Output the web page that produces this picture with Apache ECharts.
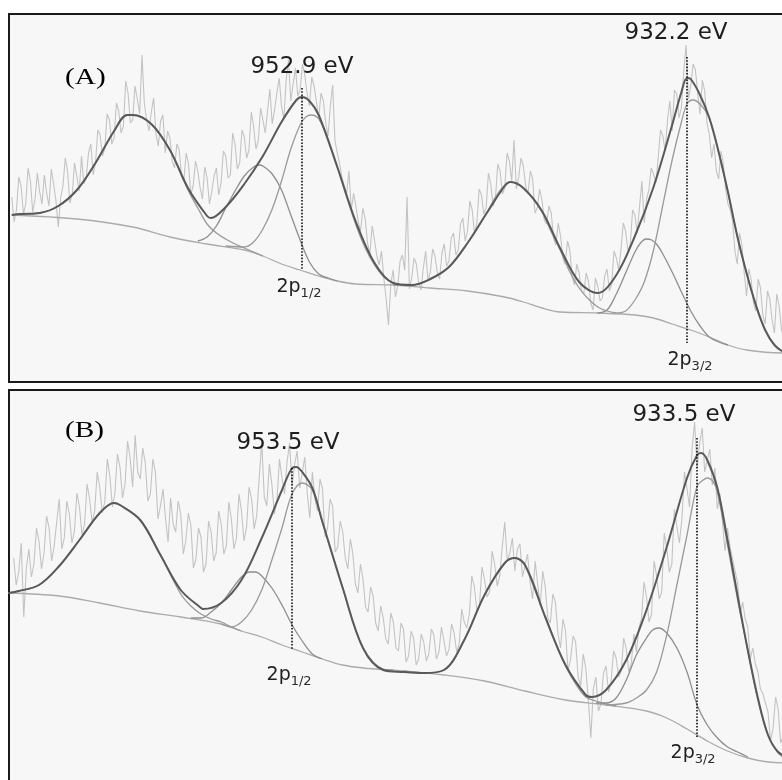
<!DOCTYPE html>
<html>
<head>
<meta charset="utf-8">
<title>Cu 2p XPS</title>
<script type="text/javascript" src="https://cdn.jsdelivr.net/npm/echarts/dist/echarts.min.js"></script>
<style type="text/css">
html, body { margin: 0; padding: 0; background: #ffffff; }
#main { width: 782px; height: 780px; }
</style>
</head>
<body>
<div id="main"></div>
<script type="text/javascript">

// binding energy grid of the raw scans (eV), values are intensity (a.u.)
var rawStep = 0.125;
var rawStartA = 968.5;
var rawStartB = 967.25;

var rawA = [185,160,172,205,196,168,178,214,201,170,183,209,190,178,207,189,176,213,198,181,
155,184,196,224,211,179,188,219,205,191,226,198,204,229,238,207,219,252,247,226,
233,268,262,238,244,279,271,249,256,301,289,259,262,296,283,268,327,279,262,251,
270,284,248,236,261,267,229,251,244,221,214,238,232,206,201,229,218,188,196,221,
211,194,183,215,204,178,190,206,214,187,199,231,226,204,207,249,238,213,219,252,
245,224,232,270,256,233,241,274,262,249,271,293,258,272,289,304,276,263,302,322,
281,298,314,286,292,318,307,289,276,305,296,281,264,289,281,259,246,276,297,241,
229,218,204,196,188,211,172,189,176,160,151,174,163,139,128,156,142,126,117,131,
104,83,57,98,112,85,96,121,127,112,185,93,104,124,118,99,92,114,131,101,
110,133,126,109,103,129,138,116,121,144,149,127,132,158,164,141,151,181,172,149,
158,193,187,168,174,209,198,176,183,218,211,188,194,229,221,201,242,193,205,224,
216,196,188,211,203,169,174,193,182,162,158,176,169,144,137,159,146,124,118,141,
132,105,97,118,109,91,88,109,101,79,72,104,96,81,84,106,113,91,98,131,
124,112,133,159,151,131,138,172,167,149,176,201,159,183,192,214,208,199,224,252,
246,231,262,281,251,292,288,264,275,311,337,283,296,318,312,289,268,302,291,259,
247,224,238,211,203,231,219,193,178,172,161,131,118,149,137,109,86,113,102,79,
71,103,94,67,58,91,83,62,49,88,76,53,44];

var rawB = [232,205,218,247,173,222,241,213,226,262,249,221,237,274,262,229,244,268,291,241,
252,289,276,247,259,297,283,255,266,306,291,268,279,318,303,277,288,331,314,283,
297,336,323,292,306,349,332,303,355,318,311,342,327,289,296,331,318,271,284,301,
271,248,292,266,258,289,276,236,249,277,265,222,231,262,253,218,226,269,258,229,
237,279,266,236,244,288,271,241,252,296,279,249,263,303,291,261,274,312,348,293,
284,326,306,276,289,331,312,296,328,347,304,326,339,302,317,333,296,272,318,291,
279,311,301,253,262,291,284,238,243,269,258,232,221,251,236,206,197,226,211,183,
178,203,194,167,159,184,172,151,146,177,168,142,139,167,161,128,134,159,152,125,
131,156,148,129,136,161,155,131,138,163,149,134,141,166,157,138,146,181,168,162,
176,214,203,179,184,223,211,193,198,239,226,204,214,243,268,229,237,252,219,241,
246,213,224,236,208,191,229,206,184,219,203,172,167,196,188,157,142,171,159,119,
131,154,148,113,104,136,122,91,52,101,113,79,86,117,124,98,108,139,132,113,
119,152,141,118,127,156,138,162,171,208,193,168,176,229,214,191,198,257,242,218,
226,281,263,247,272,318,301,283,341,368,322,347,362,318,330,341,305,322,281,296,
268,239,262,243,231,219,207,176,188,171,163,131,142,126,118,101,96,87,78,49,
62,93,81,47,54,76,67];

// panel A fitted curves [eV, intensity]
var envA = [[968.5,167],[968,168],[967,169],[966,176],[965,192],[964,219],[963,251],[962.3,267],[962,267],[961,258],[960,232],[959,193],[958,166],[957.8,164],[957,175],[956,198],[955,226],[954,260],[953.2,282],[952.9,285],[952.5,281],[952,267],[951,215],[950,160],[949,119],[948,99],[947,97],[946,103],[945,115],[944,139],[943,168],[942,196],[941.7,200],[941,194],[940,171],[939,133],[938,100],[937,89],[936,107],[935,146],[934,195],[933,257],[932.5,290],[932.2,304],[932,303],[931.5,287],[931,264],[930.5,230],[930,190],[929.5,146],[929,109],[928.5,77],[928,52],[927.5,37],[927,30],[926.5,28]];
var bgA = [[968.5,167],[965,163],[962,155],[960,145],[958,138],[956,132],[955,126],[954,118],[953,112],[952,106],[951,101],[950,98],[948,97],[946,94],[944,91],[942,85],[941,80],[940,74],[939,70],[937,69],[935,67],[934,64],[933,58],[932,52],[931,45],[930,37],[929,32],[927,29],[926.5,29]];
var satA1 = [[968.5,167],[968,168],[967,169],[966,176],[965,192],[964,219],[963,251],[962.3,267],[962,267],[961,258],[960,232],[959,191],[958.5,174],[958,158],[957.5,149],[957,143],[956.5,138],[956,134],[955.5,130],[955,126]];
var satA2 = [[958.5,141],[958,145],[957.5,156],[957,174],[956.5,191],[956,206],[955.5,215],[955.2,217],[955,216],[954.5,208],[954,192],[953.5,167],[953,142],[952.5,120],[952,108],[951.5,104],[951,101]];
var p12A = [[957,136],[956,135],[955.5,140],[955,153],[954.5,173],[954,201],[953.5,233],[953,257],[952.7,265],[952.4,267],[952,263],[951.5,242],[951,215],[950.5,185],[950,157],[949.5,134],[949,117],[948.5,105],[948,99],[947.5,97]];
var satA3 = [[948,97],[947,97],[946,103],[945,115],[944,139],[943,168],[942.5,185],[942,197],[941.7,200],[941.3,198],[941,194],[940.5,184],[940,170],[939.5,150],[939,131],[938.5,110],[938,94],[937.5,83],[937,75],[936.5,71],[936,69]];
var satA4 = [[937,69],[936.5,72],[936,88],[935.5,109],[935,130],[934.7,139],[934.4,143],[934.1,142],[933.8,137],[933.5,128],[933,110],[932.5,90],[932,71],[931.5,56],[931,45],[930.5,40],[930,37]];
var p32A = [[936,69],[935.5,71],[935,82],[934.5,100],[934,132],[933.5,177],[933,222],[932.5,260],[932.2,278],[931.9,282],[931.5,278],[931,264],[930.5,230],[930,190],[929.5,146],[929,109],[928.5,77],[928,52],[927.5,37],[927,30]];

// panel B fitted curves [eV, intensity]
var envB = [[967.5,197],[967,199],[966,205],[965,224],[964,250],[963,277],[962.3,287],[962,285],[961,270],[960,235],[959,200],[958,182],[957.9,181],[957,187],[956,210],[955,252],[954,300],[953.5,322],[953.3,323],[953,318],[952.5,302],[952,268],[951,202],[950,142],[949,120],[948,118],[947,117],[946,120],[945,150],[944,195],[943,227],[942.5,232],[942,225],[941,173],[940,125],[939,95],[938.7,93],[938,100],[937,130],[936,180],[935,243],[934,312],[933.5,335],[933.3,337],[933,330],[932.5,302],[932,250],[931.5,194],[931,140],[930.5,92],[930,55],[929.5,38],[929,33],[928.5,30]];
var bgB = [[967.5,197],[965,194],[963,187],[961,179],[959,173],[957,166],[956,159],[955,153],[954,145],[953,138],[952,131],[951,125],[950,122],[948,119],[946,115],[944,109],[942,99],[940,90],[938,85],[936,79],[935,72],[934,61],[933,49],[932,39],[931,32],[930,28],[929,27],[928.5,27]];
var satB1 = [[967.5,197],[967,199],[966,205],[965,224],[964,250],[963,277],[962.3,287],[962,285],[961,270],[960,235],[959,196],[958.5,184],[958,176],[957.5,171],[957,168],[956.5,163],[956,159]];
var satB2 = [[958.5,172],[958,172],[957.5,178],[957,187],[956.5,200],[956,213],[955.6,218],[955.3,218],[955,214],[954.5,202],[954,185],[953.5,165],[953,149],[952.5,136],[952,131]];
var p12B = [[957,166],[956.5,163],[956,168],[955.5,180],[955,200],[954.5,230],[954,262],[953.5,296],[953,307],[952.5,300],[952,267],[951.5,235],[951,202],[950.5,168],[950,142],[949.5,128],[949,121],[948.5,120]];
var satB3 = [[948,119],[947,117],[946,120],[945,150],[944,195],[943,227],[942.5,232],[942,225],[941.5,203],[941,173],[940.5,148],[940,124],[939.5,106],[939,93],[938.5,89],[938,86],[937.5,84]];
var satB4 = [[938.5,87],[938,87],[937.5,92],[937,110],[936.5,135],[936,152],[935.7,160],[935.4,162],[935,157],[934.5,142],[934,118],[933.5,85],[933,65],[932.5,52],[932,43],[931.5,38],[931,33]];
var p32B = [[938,85],[937,87],[936.5,92],[936,100],[935.5,118],[935,155],[934.5,205],[934,255],[933.5,304],[933.2,310],[933,312],[932.7,308],[932.5,298],[932,245],[931.5,190],[931,140],[930.5,90],[930,55],[929.5,37],[929,30]];

// peak positions and dotted marker ranges [eV, from, to]
var peaksA = [[952.9, 294, 112], [932.2, 325, 39]];
var peaksB = [[953.5, 322, 140], [933.5, 352, 53]];
var peakLabelsA = ['952.9 eV', '932.2 eV'];
var peakLabelsB = ['953.5 eV', '933.5 eV'];
var orbitalLabels = ['1/2', '3/2'];

function toSeriesData(values, start)
{
	var out = [];
	for (var i = 0; i < values.length; i++)
	{
		out.push([+(start - i * rawStep).toFixed(3), values[i]]);
	}
	return out;
}

function curve(idx, data, color, width, z)
{
	return {
		type: 'line',
		xAxisIndex: idx,
		yAxisIndex: idx,
		data: data,
		smooth: 0.35,
		symbol: 'none',
		silent: true,
		z: z,
		lineStyle: { color: color, width: width }
	};
}

function markers(idx, peaks, eVLabels, labelPos)
{
	var lines = [];
	var points = [];
	for (var i = 0; i < peaks.length; i++)
	{
		var p = peaks[i];
		lines.push([{ coord: [p[0], p[1]] }, { coord: [p[0], p[2]] }]);
		points.push({ coord: labelPos[i][0], value: eVLabels[i],
			label: { formatter: eVLabels[i], fontSize: 23, fontFamily: 'DejaVu Sans', color: '#1e1e1e' } });
		points.push({ coord: labelPos[i][1], value: orbitalLabels[i],
			label: { formatter: '{a|2p}{b|' + orbitalLabels[i] + '}' } });
	}
	return {
		type: 'line',
		xAxisIndex: idx,
		yAxisIndex: idx,
		data: [],
		silent: true,
		z: 10,
		markLine: {
			silent: true,
			symbol: 'none',
			label: { show: false },
			lineStyle: { type: 'dotted', color: '#111', width: 1.6 },
			data: lines
		},
		markPoint: {
			silent: true,
			symbol: 'circle',
			symbolSize: 0,
			label: {
				show: true,
				position: 'inside',
				rich: {
					a: { fontSize: 19, fontFamily: 'DejaVu Sans', color: '#1e1e1e', lineHeight: 22, verticalAlign: 'top' },
					b: { fontSize: 13, fontFamily: 'DejaVu Sans', color: '#2a2a2a', lineHeight: 8, verticalAlign: 'bottom' }
				}
			},
			data: points
		}
	};
}

var chart = echarts.init(document.getElementById('main'), null, { renderer: 'canvas' });

var hidden = { show: false };
function xAxisCfg(idx, min, max)
{
	return { type: 'value', gridIndex: idx, inverse: true, min: min, max: max,
		axisLine: hidden, axisTick: hidden, axisLabel: hidden, splitLine: hidden };
}
function yAxisCfg(idx, max)
{
	return { type: 'value', gridIndex: idx, min: 0, max: max,
		axisLine: hidden, axisTick: hidden, axisLabel: hidden, splitLine: hidden };
}

var rawColor = '#c3c3c3';
var envColor = '#595959';
var compColor = '#9a9a9a';
var bgColor = '#ababab';

var option = {
	animation: false,
	backgroundColor: '#ffffff',
	grid: [
		{ left: 9, top: 14, width: 790, height: 368, outerBoundsMode: 'none', containLabel: false,
		  show: true, backgroundColor: '#f7f7f7', borderColor: '#1a1a1a', borderWidth: 2 },
		{ left: 9, top: 390, width: 790, height: 400, outerBoundsMode: 'none', containLabel: false,
		  show: true, backgroundColor: '#f7f7f7', borderColor: '#1a1a1a', borderWidth: 2 }
	],
	xAxis: [xAxisCfg(0, 926.18, 968.65), xAxisCfg(1, 928.47, 967.48)],
	yAxis: [yAxisCfg(0, 368), yAxisCfg(1, 400)],
	graphic: [
		{ type: 'text', x: 65, y: 78, scaleX: 1.22, silent: true,
		  style: { text: '(A)', font: '24px "Liberation Serif"', fill: '#000', textVerticalAlign: 'middle' } },
		{ type: 'text', x: 65, y: 431, scaleX: 1.22, silent: true,
		  style: { text: '(B)', font: '24px "Liberation Serif"', fill: '#000', textVerticalAlign: 'middle' } }
	],
	series: [
		{ type: 'line', xAxisIndex: 0, yAxisIndex: 0, data: toSeriesData(rawA, rawStartA), symbol: 'none', silent: true, z: 1,
		  lineStyle: { color: rawColor, width: 1.1 } },
		curve(0, bgA, bgColor, 1.3, 2),
		curve(0, satA1, compColor, 1.3, 3),
		curve(0, satA2, '#8e8e8e', 1.3, 3),
		curve(0, p12A, compColor, 1.3, 3),
		curve(0, satA3, compColor, 1.3, 3),
		curve(0, satA4, '#8e8e8e', 1.3, 3),
		curve(0, p32A, compColor, 1.3, 3),
		curve(0, envA, envColor, 2, 4),
		markers(0, peaksA, peakLabelsA, [[[952.9, 314.5], [953.06, 93]], [[932.79, 348.5], [932.04, 20]]]),

		{ type: 'line', xAxisIndex: 1, yAxisIndex: 1, data: toSeriesData(rawB, rawStartB), symbol: 'none', silent: true, z: 1,
		  lineStyle: { color: rawColor, width: 1.1 } },
		curve(1, bgB, bgColor, 1.3, 2),
		curve(1, satB1, compColor, 1.3, 3),
		curve(1, satB2, '#8e8e8e', 1.3, 3),
		curve(1, p12B, compColor, 1.3, 3),
		curve(1, satB3, compColor, 1.3, 3),
		curve(1, satB4, '#8e8e8e', 1.3, 3),
		curve(1, p32B, compColor, 1.3, 3),
		curve(1, envB, envColor, 2, 4),
		markers(1, peaksB, peakLabelsB, [[[953.7, 346.5], [953.65, 113]], [[934.15, 375], [933.7, 35]]])
	]
};

chart.setOption(option);
</script>
</body>
</html>
